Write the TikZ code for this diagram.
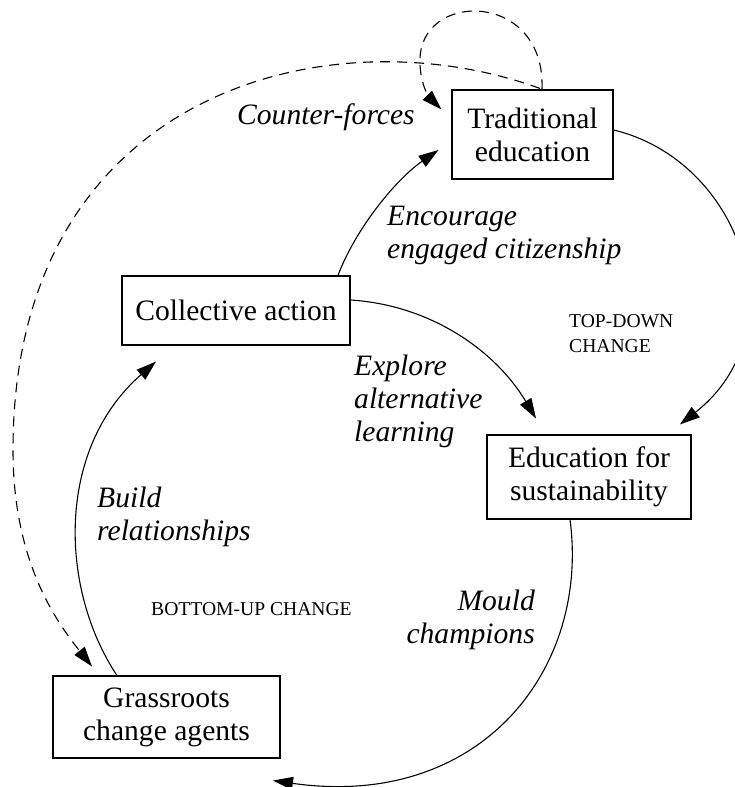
\documentclass[tikz,border=0pt]{standalone}
\usepackage{fontspec}
\setmainfont{Liberation Serif}
\usetikzlibrary{arrows.meta}
\begin{document}
\begin{tikzpicture}[x=1pt,y=-1pt,
  box/.style={draw, line width=1.1pt, inner sep=0pt, align=center,
    font=\fontsize{29.6}{33}\selectfont},
  lbl/.style={inner sep=0pt, font=\fontsize{29.6}{33}\selectfont\itshape},
  caps/.style={inner sep=0pt, font=\fontsize{19.6}{25}\selectfont},
  flow/.style={line width=1.1pt, -{Triangle[length=20pt,width=13pt]}},
  counter/.style={flow, dash pattern=on 10pt off 7pt}]
\useasboundingbox (0,0) rectangle (734,787);

% the four stages
\node[box, minimum width=161pt, minimum height=89pt] (trad) at (532.5,134.5) {Traditional\\education};
\node[box, minimum width=228pt, minimum height=69pt] (coll) at (236,310.5) {Collective action};
\node[box, minimum width=204pt, minimum height=84pt] (edu) at (589,477) {Education for\\sustainability};
\node[box, minimum width=227pt, minimum height=82pt] (grass) at (166.5,717) {Grassroots\\change agents};

% solid flows
\draw[flow] ([shift={(102,0)}]coll.north) .. controls (355,230) and (395,180) .. ([shift={(-13,15.5)}]trad.west);
\draw[flow] ([shift={(0,-4.5)}]trad.east) .. controls (740,160) and (800,330) .. ([shift={(91,-10)}]edu.north);
\draw[flow] ([shift={(0,-10.5)}]coll.east) .. controls (430,305) and (495,350) .. ([shift={(-53,-16)}]edu.north);
\draw[flow] ([shift={(-19,0)}]edu.south) .. controls (590,670) and (480,810) .. ([shift={(106.5,22)}]grass.south);
\draw[flow] ([shift={(-49.5,0)}]grass.north) .. controls (60,590) and (55,450) .. ([shift={(-80,16)}]coll.south);

% counter-forces (dashed)
\draw[counter] ([shift={(7.5,-1)}]trad.north) .. controls (330,12) and (13,90) .. (13,450)
  .. controls (13,560) and (55,620) .. ([shift={(-74.5,-9)}]grass.north);
\draw[counter] ([shift={(9.5,0)}]trad.north) .. controls (546,-10) and (418,-10) .. (420,62)
  .. controls (420,85) and (430,98) .. ([shift={(-10,20)}]trad.north west);

% labels (base anchors sit on the last line)
\node[lbl, anchor=base west] (cf) at (237,124) {Counter-forces};
\node[lbl, anchor=base west, align=left] (enc) at (387,258.5) {Encourage\\engaged citizenship};
\node[lbl, anchor=base west, align=left] (expl) at (354,441) {Explore\\alternative\\learning};
\node[lbl, anchor=base west, align=left] (build) at (97,540) {Build\\relationships};
\node[lbl, anchor=base east, align=right] (mould) at (535,643) {Mould\\champions};
\node[caps, anchor=base west, align=left] (td) at (569,352) {TOP-DOWN\\CHANGE};
\node[caps, anchor=base west] (bu) at (151,615) {BOTTOM-UP CHANGE};
\end{tikzpicture}
\end{document}
